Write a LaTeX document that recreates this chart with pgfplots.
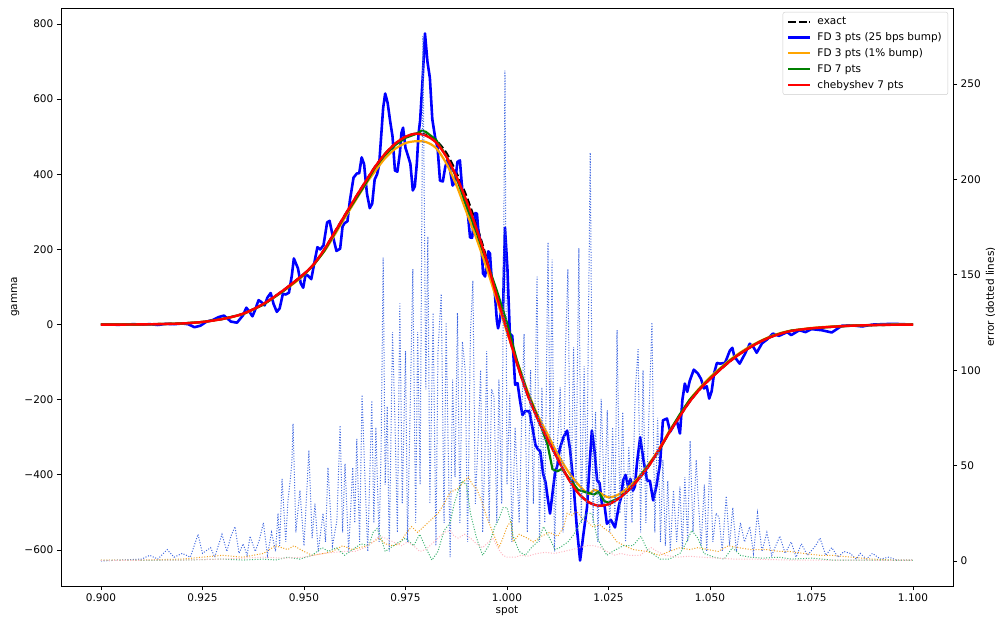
\documentclass[border=0pt]{standalone}
\usepackage{fontspec}
\setmainfont{DejaVu Sans}
\usepackage{pgfplots}
\pgfplotsset{compat=1.18}
\definecolor{mplblue}{HTML}{0000FF}
\definecolor{mplorange}{HTML}{FFA500}
\definecolor{mplgreen}{HTML}{008000}
\definecolor{mplred}{HTML}{FF0000}
\definecolor{errblue}{HTML}{4169E1}
\definecolor{errorange}{HTML}{F0A020}
\definecolor{errgreen}{HTML}{3CB371}
\definecolor{errpink}{HTML}{FFB6C1}
\begin{document}
\fontsize{10.5}{12.6}\selectfont
\begin{tikzpicture}
\pgfplotsset{
  common/.style={
    scale only axis, width=892pt, height=578pt,
    xmin=0.89015, xmax=1.10985,
    tick align=outside, major tick length=4pt,
    every tick/.style={black, line width=0.8pt},
    axis line style={line width=0.8pt},
    tick label style={font=\fontsize{10.5}{12.6}\selectfont},
    label style={font=\fontsize{10.5}{12.6}\selectfont},
    /pgf/number format/assume math mode=true,
  }
}
\begin{axis}[common,
  ymin=-695.8, ymax=842.6,
  xtick pos=bottom, ytick pos=left,
  xtick={0.9,0.925,0.95,0.975,1,1.025,1.05,1.075,1.1},
  xticklabels={0.900,0.925,0.950,0.975,1.000,1.025,1.050,1.075,1.100},
  ytick={-600,-400,-200,0,200,400,600,800},
  yticklabels={−600,−400,−200,0,200,400,600,800},
  xlabel={spot}, ylabel={gamma},
  xlabel style={yshift=3pt},
  ylabel style={yshift=-2pt},
  legend cell align=left,
  legend style={at={(rel axis cs:1,1)}, anchor=north east, xshift=-5pt, yshift=-4pt,
    draw=black!20, rounded corners=2pt, fill=white, fill opacity=0.8, text opacity=1,
    font=\fontsize{10.5}{12.6}\selectfont, row sep=2.4pt, inner xsep=4pt, inner ysep=3pt,
    /tikz/every odd column/.append style={column sep=4pt}},
  legend image code/.code={\draw[#1] plot coordinates {(0pt,0pt)(11pt,0pt)(22pt,0pt)};},
]
\coordinate (bl) at (rel axis cs:0,0);
\coordinate (tr) at (rel axis cs:1,1);
% exact
\addplot[black, line width=2.2pt, dash pattern=on 7.4pt off 3.2pt, smooth] coordinates {
(0.900,0)(0.905,0)(0.910,0.5)(0.915,1.5)(0.920,3)(0.925,7)(0.930,15)(0.935,29)(0.940,55)(0.945,92)(0.950,135)(0.9525,162)(0.955,200)(0.9575,245)(0.960,290)(0.9625,335)(0.965,378)(0.9675,420)(0.970,455)(0.9725,482)(0.975,500)(0.9775,508)(0.980,505)(0.9825,490)(0.985,458)(0.9875,405)(0.990,342)(0.9925,265)(0.995,175)(0.9975,78)(1.000,-15)(1.0025,-105)(1.005,-185)(1.0075,-250)(1.010,-305)(1.0125,-358)(1.015,-408)(1.0175,-448)(1.020,-472)(1.0225,-482)(1.025,-478)(1.0275,-463)(1.030,-440)(1.0325,-410)(1.035,-375)(1.0375,-332)(1.040,-287)(1.0425,-245)(1.045,-205)(1.0475,-172)(1.050,-145)(1.0525,-120)(1.055,-97)(1.0575,-77)(1.060,-60)(1.0625,-45)(1.065,-33)(1.0675,-24)(1.070,-17)(1.075,-10)(1.080,-6)(1.085,-3)(1.090,-1.5)(1.095,-0.5)(1.100,0)
};
\addlegendentry{exact}
% FD 3 pts 25 bps
\addplot[mplblue, line width=2.6pt, line join=round] coordinates {
(0.900,0)(0.902,0.5)(0.904,-0.5)(0.906,0)(0.908,1)(0.910,0)(0.912,1)(0.914,-1)(0.916,2)(0.918,1)(0.920,3)(0.9215,1)(0.923,-7)(0.9245,-3)(0.926,8)(0.9275,12)(0.929,20)(0.9303,24)(0.932,8)(0.9335,5)
(0.935,25)(0.9358,45)(0.9365,35)(0.9373,22)(0.938,40)(0.9388,65)(0.9395,60)(0.9403,51)(0.941,72)(0.9418,84)(0.9425,55)(0.9433,34)(0.944,43)(0.9448,82)(0.9455,80)(0.9463,85)(0.947,130)(0.9475,176)(0.9485,150)(0.9492,110)(0.9498,98)(0.9504,134)(0.951,130)(0.9518,121)(0.9525,162)(0.9533,206)(0.954,200)(0.9548,211)(0.9557,272)(0.9563,276)(0.957,240)(0.958,196)(0.9589,202)(0.9595,261)(0.960,270)(0.9607,275)(0.9613,330)(0.9622,391)(0.963,402)(0.9636,403)(0.9642,445)(0.9648,427)(0.9655,349)(0.9662,310)(0.9668,322)(0.9674,386)(0.968,400)(0.9685,425)(0.969,500)(0.9695,577)(0.970,615)(0.9706,590)(0.9712,543)(0.9718,501)(0.9724,410)(0.973,407)(0.9736,455)(0.974,510)(0.9744,524)(0.975,470)(0.9756,450)(0.9762,428)(0.9768,357)(0.9773,368)(0.9778,430)(0.9782,506)(0.9786,543)(0.9792,650)(0.9798,775)(0.9804,700)(0.981,657)(0.9816,547)(0.9823,498)(0.9829,470)(0.9835,383)(0.9842,381)(0.9848,420)(0.9854,440)(0.986,410)(0.9866,370)(0.9872,380)(0.9878,433)(0.9884,437)(0.989,355)(0.9897,322)(0.9903,302)(0.9909,232)(0.9914,231)(0.9918,270)(0.9922,297)(0.9926,295)(0.993,242)(0.9933,230)(0.9937,208)(0.9941,136)(0.9946,128)(0.995,160)(0.9954,195)(0.9958,189)(0.9962,125)(0.9966,110)(0.997,85)(0.9975,11)(0.9978,-10)(0.9982,10)(0.9986,40)(0.999,29)(0.9995,258)(1.0001,150)(1.0007,-24)
(1.0013,-30)(1.0020,-160)(1.0026,-156)(1.0032,-202)(1.0038,-241)(1.0045,-230)(1.0055,-231)(1.0064,-282)(1.0070,-320)(1.0075,-330)(1.0082,-338)(1.0089,-397)(1.0095,-420)(1.0100,-460)(1.0106,-503)(1.0112,-450)(1.0118,-397)(1.0124,-375)(1.0130,-330)(1.0139,-300)(1.0148,-282)(1.0155,-330)(1.0163,-415)(1.0172,-540)(1.0180,-628)(1.0188,-560)(1.0197,-487)(1.0203,-380)(1.0209,-282)(1.0215,-330)(1.0222,-415)(1.0228,-422)(1.0234,-480)(1.0240,-480)(1.0246,-530)(1.0256,-520)(1.0266,-540)(1.0276,-480)(1.0281,-460)(1.0286,-415)(1.0292,-400)(1.0298,-430)(1.0304,-411)(1.0310,-442)(1.0315,-431)(1.0320,-370)(1.0328,-300)(1.0336,-360)(1.0345,-415)(1.0352,-416)(1.0360,-468)(1.0368,-430)(1.0377,-370)(1.0384,-255)(1.0394,-250)(1.0402,-285)(1.0410,-270)(1.0418,-255)(1.0426,-290)(1.0432,-200)(1.0438,-157)(1.0444,-179)(1.0450,-150)(1.0460,-120)(1.0470,-130)(1.0478,-145)(1.0485,-170)(1.0492,-164)(1.0498,-197)(1.0504,-178)(1.0510,-130)(1.0517,-102)(1.0524,-104)(1.0537,-102)(1.0549,-69)(1.0555,-62)(1.0560,-85)(1.0573,-104)(1.0585,-80)(1.0598,-51)(1.0607,-60)(1.0615,-75)(1.0628,-50)(1.0640,-40)(1.0655,-24)(1.0670,-30)(1.0690,-20)(1.0700,-28)(1.0720,-15)(1.0735,-20)(1.0750,-12)(1.0775,-15)(1.0800,-21)(1.0825,-3)(1.0850,-2)(1.0875,-5)(1.090,0)(1.095,2)(1.100,0)
};
\addlegendentry{FD 3 pts (25 bps bump)}
% FD 3 pts 1%
\addplot[mplorange, line width=2.2pt, smooth] coordinates {
(0.900,0)(0.905,0)(0.910,0.5)(0.915,1.5)(0.920,3)(0.925,7)(0.930,15)(0.935,28)(0.940,54)(0.945,90)(0.950,132)(0.955,195)(0.960,283)(0.965,370)(0.9675,408)(0.970,443)(0.9725,468)(0.975,483)(0.9775,488)(0.980,486)(0.9825,470)(0.985,430)(0.9875,372)(0.990,300)(0.9925,228)(0.995,150)(0.9975,65)(1.000,-20)(1.0025,-98)(1.005,-175)(1.0075,-240)(1.010,-292)(1.0125,-345)(1.015,-390)(1.0175,-425)(1.020,-450)(1.0215,-440)(1.0225,-445)(1.025,-460)(1.0275,-452)(1.030,-432)(1.0325,-405)(1.035,-370)(1.0375,-330)(1.040,-283)(1.0425,-242)(1.045,-200)(1.0475,-168)(1.050,-140)(1.0525,-116)(1.055,-93)(1.0575,-74)(1.060,-57)(1.0625,-43)(1.065,-31)(1.0675,-22)(1.070,-16)(1.075,-9)(1.080,-5)(1.085,-2.5)(1.090,-1)(1.095,0)(1.100,0)
};
\addlegendentry{FD 3 pts (1\% bump)}
% FD 7 pts
\addplot[mplgreen, line width=2.2pt] coordinates {
(0.900,0)(0.905,0)(0.910,0.5)(0.915,1.5)(0.920,3)(0.925,7)(0.930,15)(0.935,28)(0.940,53)(0.945,90)(0.950,133)(0.9525,160)(0.955,196)(0.9575,242)(0.960,288)(0.9625,330)(0.965,372)(0.9675,418)(0.970,452)(0.9725,478)(0.975,497)(0.9775,507)(0.979,516)(0.980,513)(0.9825,492)(0.985,450)(0.9875,392)(0.990,318)(0.9925,245)(0.995,168)(0.9975,90)(1.000,5)(1.0025,-98)(1.005,-180)(1.0075,-245)(1.010,-320)(1.0112,-385)(1.0125,-390)(1.0135,-384)(1.015,-405)(1.0175,-440)(1.020,-448)(1.0215,-452)(1.0225,-445)(1.024,-470)(1.025,-474)(1.0275,-462)(1.030,-440)(1.0325,-408)(1.035,-372)(1.0375,-335)(1.040,-285)(1.0425,-240)(1.045,-200)(1.0475,-170)(1.050,-143)(1.0525,-118)(1.055,-95)(1.0575,-76)(1.060,-59)(1.0625,-44)(1.065,-32)(1.0675,-23)(1.070,-16)(1.075,-10)(1.080,-6)(1.085,-3)(1.090,-1.5)(1.095,-0.5)(1.100,0)
};
\addlegendentry{FD 7 pts}
% chebyshev
\addplot[mplred, line width=2.4pt, smooth] coordinates {
(0.900,0)(0.905,0)(0.910,0.5)(0.915,1.5)(0.920,3)(0.925,7)(0.930,15)(0.935,29)(0.940,55)(0.945,92)(0.950,135)(0.9525,162)(0.955,200)(0.9575,245)(0.960,290)(0.9625,335)(0.965,378)(0.9675,420)(0.970,455)(0.9725,482)(0.975,500)(0.9775,508)(0.980,503)(0.9825,485)(0.985,448)(0.9875,395)(0.990,330)(0.9925,255)(0.995,170)(0.9975,75)(1.000,-15)(1.0025,-105)(1.005,-185)(1.0075,-250)(1.010,-305)(1.0125,-358)(1.015,-408)(1.0175,-448)(1.020,-472)(1.0225,-482)(1.025,-478)(1.0275,-463)(1.030,-440)(1.0325,-410)(1.035,-375)(1.0375,-332)(1.040,-287)(1.0425,-245)(1.045,-205)(1.0475,-172)(1.050,-145)(1.0525,-120)(1.055,-97)(1.0575,-77)(1.060,-60)(1.0625,-45)(1.065,-33)(1.0675,-24)(1.070,-17)(1.075,-10)(1.080,-6)(1.085,-3)(1.090,-1.5)(1.095,-0.5)(1.100,0)
};
\addlegendentry{chebyshev 7 pts}
\end{axis}
\begin{axis}[common,
  ymin=-13.1, ymax=289.8,
  axis x line=none, axis y line*=right,
  ytick={0,50,100,150,200,250},
  ylabel={error (dotted lines)},
  ylabel style={yshift=2pt},
]
\addplot[errblue, line width=1pt, dash pattern=on 1pt off 1.65pt] coordinates {
(0.900,0)(0.905,0.5)(0.910,1)(0.912,3)(0.914,1)(0.9163,6)(0.918,2)(0.920,4)(0.922,2)(0.9239,14)(0.925,4)(0.927,7)(0.928,2)(0.9298,14)(0.931,5)(0.932,13)(0.933,18)(0.934,4)(0.935,9)(0.936,3)(0.9367,13)(0.938,5)(0.939,11)(0.940,20)(0.941,3)(0.942,15)(0.943,5)(0.9436,25)(0.944,8)(0.9446,43)(0.9455,10)(0.946,30)(0.947,51)(0.9473,72)(0.948,15)(0.949,37)(0.950,8)(0.9512,58)(0.952,12)(0.9527,30)(0.9535,5)(0.9547,25)(0.9553,10)(0.9559,49)(0.957,8)(0.9581,21)(0.9589,71)(0.9595,15)(0.9601,51)(0.961,5)(0.962,49)(0.9625,20)(0.963,64)(0.9637,10)(0.9643,87)(0.965,44)(0.9657,5)(0.9667,84)(0.9672,20)(0.9677,70)(0.9685,10)(0.969,60)(0.9695,159)(0.970,40)(0.9705,81)(0.971,5)(0.9718,120)(0.9724,74)(0.973,15)(0.9736,135)(0.9742,30)(0.975,110)(0.9755,10)(0.9761,74)(0.9768,153)(0.9775,20)(0.978,120)(0.9786,40)(0.9793,275)(0.980,90)(0.9805,170)(0.981,30)(0.9818,130)(0.9825,8)(0.983,110)(0.9838,140)(0.9845,20)(0.985,125)(0.9855,60)(0.986,2)(0.9866,95)(0.9872,44)(0.9878,130)(0.9884,20)(0.989,115)(0.9897,100)(0.9903,10)(0.991,120)(0.9916,147)(0.9922,30)(0.9929,65)(0.9935,100)(0.994,15)(0.9946,60)(0.995,110)(0.9956,20)(0.9962,90)(0.9968,86)(0.9975,20)(0.998,95)(0.9987,30)(0.9995,257)(1.0000,40)(1.0007,88)(1.0012,10)(1.0020,70)(1.0030,20)(1.0037,81)(1.0042,119)(1.0050,15)(1.0058,100)(1.0065,30)(1.0074,149)(1.0080,10)(1.0086,91)(1.0093,20)(1.0101,167)(1.0106,60)(1.0111,158)(1.0117,5)(1.0124,60)(1.0131,91)(1.0138,15)(1.0144,110)(1.0150,153)(1.0157,25)(1.0164,112)(1.0170,40)(1.0177,164)(1.0183,20)(1.0190,102)(1.0196,30)(1.0205,214)(1.0212,20)(1.0218,78)(1.0224,10)(1.0232,85)(1.0240,30)(1.0247,79)(1.0253,15)(1.0260,70)(1.0266,20)(1.0271,121)(1.0278,25)(1.0285,78)(1.0292,10)(1.0300,60)(1.0308,20)(1.0316,90)(1.0323,111)(1.0329,15)(1.0335,100)(1.0342,20)(1.0350,80)(1.0357,125)(1.0364,15)(1.0371,75)(1.0378,10)(1.0384,53)(1.0390,8)(1.0396,42)(1.0402,5)(1.0410,37)(1.0418,10)(1.0426,39)(1.0432,6)(1.0438,44)(1.0445,10)(1.0451,63)(1.0458,15)(1.0466,53)(1.0470,36)(1.0478,8)(1.0486,40)(1.0492,5)(1.0500,55)(1.0507,10)(1.0515,25)(1.0522,23)(1.0530,5)(1.0540,34)(1.0548,8)(1.0556,28)(1.0565,5)(1.0575,20)(1.0585,10)(1.0598,18)(1.0607,4)(1.0617,25)(1.0628,5)(1.0640,15)(1.0652,3)(1.0672,13)(1.0685,4)(1.0700,10)(1.0712,2)(1.0725,9)(1.0740,3)(1.0760,8)(1.0771,12)(1.0785,3)(1.0800,7)(1.0815,2)(1.0830,5)(1.0845,4)(1.0860,1)(1.0870,4)(1.0885,1)(1.0900,4)(1.0920,1)(1.0940,2)(1.0960,0.5)(1.1000,0.5)
};
\addplot[errorange, line width=1pt, dash pattern=on 1pt off 1.65pt] coordinates {
(0.900,0.5)(0.910,0.5)(0.920,1)(0.925,2)(0.930,3)(0.935,2)(0.940,4)(0.943,8)(0.946,6)(0.9475,8)(0.950,5)(0.952,3)(0.955,4)(0.957,5)(0.9595,8)(0.962,6)(0.9655,8)(0.967,10)(0.9685,12)(0.970,9)(0.972,8)(0.9735,9)(0.975,14)(0.9765,18)(0.978,15)(0.980,19)(0.9815,22)(0.983,25)(0.9845,30)(0.986,36)(0.988,38)(0.9895,42)(0.9905,44)(0.9915,40)(0.9925,38)(0.994,30)(0.995,23)(0.9965,15)(0.998,7)(0.999,12)(1.000,18)(1.001,21)(1.0015,10)(1.003,14)(1.005,12)(1.0065,10)(1.0085,13)(1.0105,15)(1.0125,13)(1.014,18)(1.0148,25)(1.016,24)(1.0172,26)(1.0185,22)(1.0197,21)(1.021,18)(1.0229,19)(1.024,17)(1.0254,15)(1.0271,10)(1.029,8)(1.031,6)(1.0345,5)(1.036,4)(1.0377,3)(1.040,5)(1.0426,7)(1.045,6)(1.047,7)(1.0495,6)(1.052,5)(1.0545,8)(1.057,7)(1.060,6)(1.064,6)(1.067,5)(1.0695,5)(1.073,4)(1.077,3)(1.080,3)(1.085,2)(1.090,1)(1.095,0.5)(1.100,0.5)
};
\addplot[errgreen, line width=1pt, dash pattern=on 1pt off 1.65pt] coordinates {
(0.900,0.3)(0.910,0.3)(0.920,0.5)(0.930,1)(0.935,0.5)(0.940,1)(0.943,0.5)(0.946,2)(0.949,1)(0.952,3)(0.9545,7)(0.956,5)(0.958,7)(0.960,3)(0.962,6)(0.964,9)(0.966,8)(0.967,15)(0.968,17)(0.969,12)(0.970,5)(0.972,8)(0.9735,10)(0.975,12)(0.977,8)(0.9785,14)(0.980,7)(0.9815,0.5)(0.983,5)(0.9845,16)(0.986,20)(0.987,30)(0.988,37)(0.989,42)(0.990,40)(0.991,25)(0.9925,12)(0.994,3)(0.9955,8)(0.997,18)(0.998,22)(0.999,28)(1.000,28)(1.001,20)(1.0015,13)(1.003,5)(1.0045,3)(1.006,7)(1.0075,10)(1.009,18)(1.0105,12)(1.0118,6)(1.013,7)(1.015,10)(1.0165,14)(1.018,20)(1.0197,25)(1.0209,25)(1.0222,12)(1.0246,3)(1.026,5)(1.0286,8)(1.031,8)(1.033,13)(1.0345,6)(1.0377,1)(1.040,1)(1.0426,4)(1.044,9)(1.0455,16)(1.047,12)(1.0485,4)(1.051,2)(1.0535,1)(1.0555,7)(1.0575,3)(1.0598,2)(1.063,1.5)(1.067,2)(1.070,1)(1.075,1.5)(1.080,0.5)(1.090,0.5)(1.100,0.3)
};
\addplot[errpink, line width=1pt, dash pattern=on 1pt off 1.65pt] coordinates {
(0.900,0.3)(0.920,0.5)(0.930,1)(0.940,2)(0.945,1.5)(0.950,2)(0.955,4)(0.960,5)(0.9625,5)(0.965,7)(0.967,10)(0.9685,13)(0.970,12)(0.972,10)(0.974,8)(0.9755,10)(0.977,8)(0.9785,5)(0.980,6)(0.9815,9)(0.983,12)(0.9845,15)(0.986,16)(0.987,13)(0.988,12)(0.9895,14)(0.991,12)(0.9925,9)(0.994,7)(0.995,9)(0.9965,12)(0.998,6)(0.999,3)(1.000,2)(1.002,2)(1.0035,3)(1.005,2.5)(1.0075,4)(1.0095,4.5)(1.0118,4)(1.014,5)(1.016,6)(1.018,7)(1.0197,8)(1.0215,8)(1.023,7)(1.0246,5)(1.0266,3)(1.028,4)(1.030,3)(1.0328,3)(1.034,5)(1.0355,7)(1.037,5)(1.039,3)(1.042,2)(1.045,2.5)(1.048,2)(1.052,1.5)(1.056,1)(1.060,1)(1.070,0.5)(1.080,0.5)(1.100,0.3)
};
\end{axis}
\pgfresetboundingbox
\path[use as bounding box] ([shift={(-61pt,-37pt)}]bl) rectangle ([shift={(42pt,8pt)}]tr);
\end{tikzpicture}
\end{document}
